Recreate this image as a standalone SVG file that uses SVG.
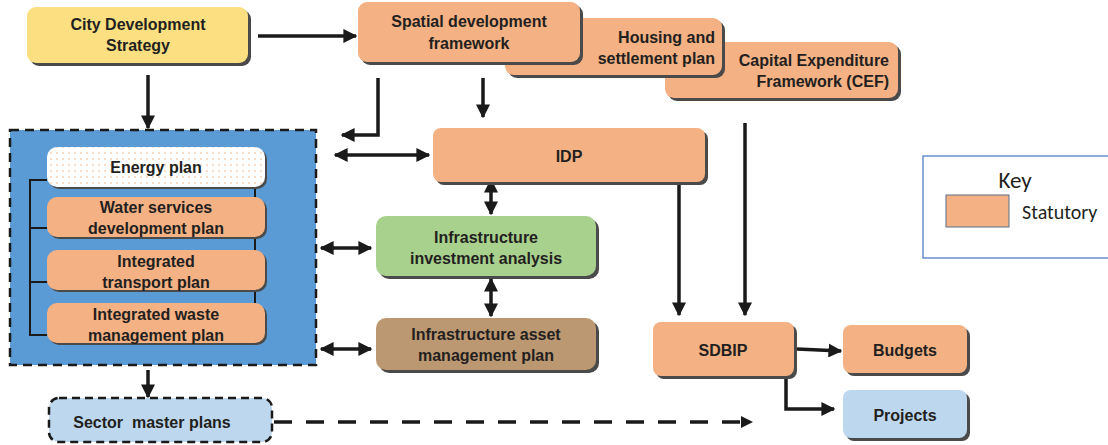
<svg xmlns="http://www.w3.org/2000/svg" width="1108" height="445" viewBox="0 0 1108 445">
<style>
.t{font-family:"Liberation Sans Narrow","Liberation Sans",Arial,sans-serif;font-weight:bold;font-size:16px;fill:#231F20;text-anchor:middle}
.sh{fill:#4a4a4a}
.or{fill:#F4B183}
.ln{stroke:#1a1a1a;stroke-width:3.5;fill:none}
</style>
<defs>
<marker id="ah" viewBox="0 0 10 10" refX="9" refY="5" markerWidth="4" markerHeight="4" orient="auto-start-reverse" markerUnits="strokeWidth"><path d="M0,0 L10,5 L0,10 z" fill="#1a1a1a"/></marker>
<pattern id="dots" width="6" height="6" patternUnits="userSpaceOnUse"><rect width="6" height="6" fill="#fff"/><circle cx="3" cy="3" r="0.8" fill="#F4B183"/></pattern>
</defs>

<g id="connectors">
<line class="ln" x1="258" y1="36" x2="356" y2="36" marker-end="url(#ah)"/>
<line class="ln" x1="148" y1="75" x2="148" y2="128" marker-end="url(#ah)"/>
<polyline class="ln" points="378,78 378,135 342,135" marker-end="url(#ah)"/>
<line class="ln" x1="483" y1="78" x2="483" y2="117" marker-end="url(#ah)"/>
<line class="ln" x1="335" y1="155" x2="429" y2="155" marker-start="url(#ah)" marker-end="url(#ah)"/>
<line class="ln" x1="491" y1="180" x2="491" y2="214" marker-start="url(#ah)" marker-end="url(#ah)"/>
<line class="ln" x1="321" y1="248" x2="371" y2="248" marker-start="url(#ah)" marker-end="url(#ah)"/>
<line class="ln" x1="491" y1="279" x2="491" y2="316" marker-start="url(#ah)" marker-end="url(#ah)"/>
<line class="ln" x1="321" y1="349" x2="371" y2="349" marker-start="url(#ah)" marker-end="url(#ah)"/>
<line class="ln" x1="679" y1="184" x2="679" y2="315" marker-end="url(#ah)"/>
<line class="ln" x1="745" y1="123" x2="745" y2="315" marker-end="url(#ah)"/>
<line class="ln" x1="797" y1="349" x2="841" y2="351" marker-end="url(#ah)"/>
<polyline class="ln" points="786,378 786,409 834,409" marker-end="url(#ah)"/>
<line class="ln" x1="148" y1="370" x2="148" y2="397" marker-end="url(#ah)"/>
<line x1="274" y1="422" x2="742" y2="422" stroke="#1a1a1a" stroke-width="3.5" stroke-dasharray="18,14"/>
<path d="M741,416 L753,422 L741,428 z" fill="#1a1a1a"/>
</g>

<g id="cds">
<rect class="sh" x="30" y="10" width="221" height="56" rx="9"/>
<rect x="27" y="7" width="221" height="56" rx="9" fill="#FBDF80"/>
<text class="t" x="138" y="30">City Development</text>
<text class="t" x="138" y="51">Strategy</text>
</g>

<g id="cef">
<rect class="sh" x="668" y="45" width="233" height="56" rx="9"/>
<rect class="or" x="665" y="42" width="233" height="56" rx="9"/>
<text class="t" x="889" y="66" style="text-anchor:end">Capital Expenditure</text>
<text class="t" x="889" y="87" style="text-anchor:end">Framework (CEF)</text>
</g>

<g id="housing">
<rect class="sh" x="508" y="21" width="217" height="57" rx="9"/>
<rect class="or" x="505" y="18" width="217" height="57" rx="9"/>
<text class="t" x="715" y="43" style="text-anchor:end">Housing and</text>
<text class="t" x="715" y="64" style="text-anchor:end">settlement plan</text>
</g>

<g id="sdf">
<rect class="sh" x="361" y="5" width="222" height="60" rx="9"/>
<rect class="or" x="358" y="2" width="222" height="60" rx="9"/>
<text class="t" x="469" y="27">Spatial development</text>
<text class="t" x="469" y="49">framework</text>
</g>

<g id="sector-box">
<rect x="10" y="130" width="306" height="235" fill="#5B9BD5" stroke="#1a1a1a" stroke-width="2.5" stroke-dasharray="9,6"/>
<polyline points="255,187 255,303" stroke="#1a1a1a" stroke-width="2" fill="none"/>
<polyline points="47,180 30,180 30,335 47,335" stroke="#1a1a1a" stroke-width="2" fill="none"/>
<line x1="30" y1="228" x2="47" y2="228" stroke="#1a1a1a" stroke-width="2"/>
<line x1="30" y1="282" x2="47" y2="282" stroke="#1a1a1a" stroke-width="2"/>
</g>

<g id="energy">
<rect class="sh" x="49" y="149" width="218" height="40" rx="10"/>
<rect x="47" y="147" width="218" height="40" rx="10" fill="url(#dots)"/>
<text class="t" x="156" y="173">Energy plan</text>
</g>
<g id="water">
<rect class="sh" x="49" y="199" width="218" height="40" rx="10"/>
<rect class="or" x="47" y="197" width="218" height="40" rx="10"/>
<text class="t" x="156" y="213">Water services</text>
<text class="t" x="156" y="234">development plan</text>
</g>
<g id="transport">
<rect class="sh" x="49" y="252" width="218" height="40" rx="10"/>
<rect class="or" x="47" y="250" width="218" height="40" rx="10"/>
<text class="t" x="156" y="267">Integrated</text>
<text class="t" x="156" y="288">transport plan</text>
</g>
<g id="waste">
<rect class="sh" x="49" y="305" width="218" height="40" rx="10"/>
<rect class="or" x="47" y="303" width="218" height="40" rx="10"/>
<text class="t" x="156" y="320">Integrated waste</text>
<text class="t" x="156" y="341">management plan</text>
</g>

<g id="idp">
<rect class="sh" x="436" y="131" width="272" height="54" rx="8"/>
<rect class="or" x="433" y="128" width="272" height="54" rx="8"/>
<text class="t" x="569" y="162">IDP</text>
</g>

<g id="iia">
<rect class="sh" x="379" y="219" width="220" height="60" rx="10"/>
<rect x="376" y="216" width="220" height="60" rx="10" fill="#A9D18E"/>
<text class="t" x="486" y="243">Infrastructure</text>
<text class="t" x="486" y="264">investment analysis</text>
</g>

<g id="iamp">
<rect class="sh" x="379" y="321" width="220" height="52" rx="10"/>
<rect x="376" y="318" width="220" height="52" rx="10" fill="#BC9872"/>
<text class="t" x="486" y="340">Infrastructure asset</text>
<text class="t" x="486" y="361">management plan</text>
</g>

<g id="sdbip">
<rect class="sh" x="656" y="325" width="141" height="54" rx="8"/>
<rect class="or" x="653" y="322" width="141" height="54" rx="8"/>
<text class="t" x="723" y="356">SDBIP</text>
</g>

<g id="budgets">
<rect class="sh" x="846" y="328" width="124" height="48" rx="8"/>
<rect class="or" x="843" y="325" width="124" height="48" rx="8"/>
<text class="t" x="905" y="356">Budgets</text>
</g>

<g id="projects">
<rect class="sh" x="846" y="393" width="124" height="48" rx="8"/>
<rect x="843" y="390" width="124" height="48" rx="8" fill="#BDD7EE"/>
<text class="t" x="905" y="421">Projects</text>
</g>

<g id="sector-master">
<rect x="49" y="398" width="223" height="44" rx="10" fill="#BDD7EE" stroke="#1a1a1a" stroke-width="2.5" stroke-dasharray="8,5"/>
<text class="t" x="152" y="428" xml:space="preserve">Sector  master plans</text>
</g>

<g id="key">
<rect x="923" y="156" width="190" height="102" fill="#fff" stroke="#4472C4" stroke-width="1.2"/>
<text x="1015" y="188" font-family="Carlito,'Open Sans','Liberation Sans',sans-serif" font-size="23" fill="#231F20" text-anchor="middle">Key</text>
<rect x="946" y="195" width="63" height="32" fill="#F4B183" stroke="#5A6E8C" stroke-width="1"/>
<text x="1022" y="219" font-family="Carlito,'Open Sans','Liberation Sans',sans-serif" font-size="20" fill="#231F20">Statutory</text>
</g>
</svg>
